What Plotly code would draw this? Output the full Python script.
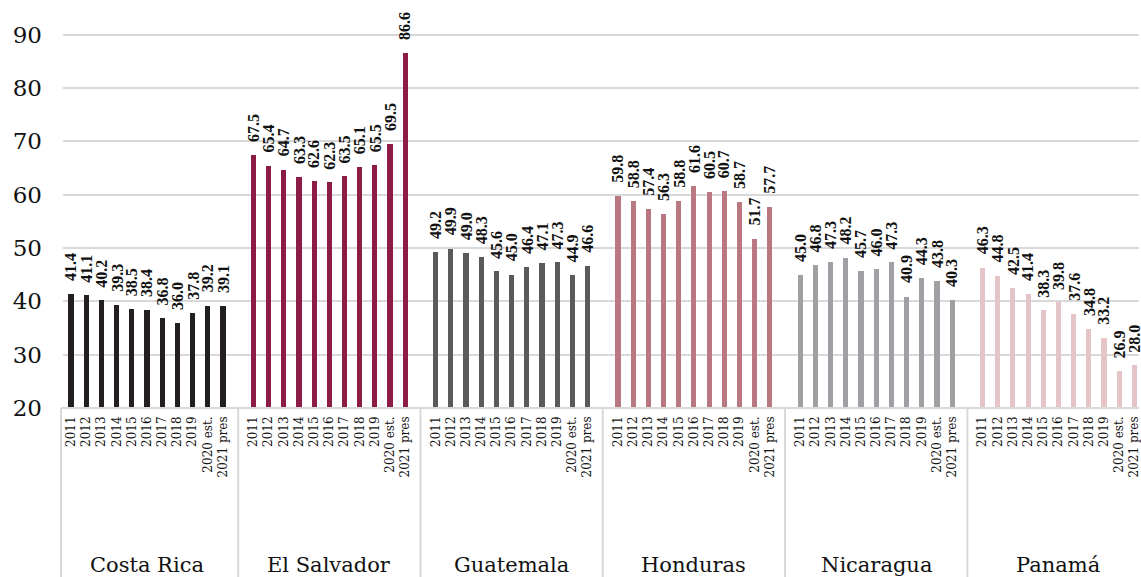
import plotly.graph_objects as go

# Six countries, eleven yearly observations each
countries = ["Costa Rica", "El Salvador", "Guatemala", "Honduras", "Nicaragua", "Panamá"]
years = ["2011", "2012", "2013", "2014", "2015", "2016", "2017", "2018", "2019",
         "2020 est.", "2021 pres"]

costa_rica = [41.4, 41.1, 40.2, 39.3, 38.5, 38.4, 36.8, 36.0, 37.8, 39.2, 39.1]
el_salvador = [67.5, 65.4, 64.7, 63.3, 62.6, 62.3, 63.5, 65.1, 65.5, 69.5, 86.6]
guatemala = [49.2, 49.9, 49.0, 48.3, 45.6, 45.0, 46.4, 47.1, 47.3, 44.9, 46.6]
honduras = [59.8, 58.8, 57.4, 56.3, 58.8, 61.6, 60.5, 60.7, 58.7, 51.7, 57.7]
nicaragua = [45.0, 46.8, 47.3, 48.2, 45.7, 46.0, 47.3, 40.9, 44.3, 43.8, 40.3]
panama = [46.3, 44.8, 42.5, 41.4, 38.3, 39.8, 37.6, 34.8, 33.2, 26.9, 28.0]

series = [costa_rica, el_salvador, guatemala, honduras, nicaragua, panama]
colors = ["#231f20", "#8c1b46", "#5a5a5a", "#b9787f", "#a0a0a4", "#e4c4c6"]

SLOTS = 12          # 11 bars + one empty slot between countries
X_MIN, X_MAX = -0.53, 70.3
Y_MIN, Y_MAX = 20, 96.5
GRID = "#d9d9d9"
SERIF = "DejaVu Serif"

fig = go.Figure()
annotations = []
tickvals, ticktext = [], []

for g, (name, vals, col) in enumerate(zip(countries, series, colors)):
    xs = [g * SLOTS + i for i in range(len(vals))]
    fig.add_trace(go.Bar(
        x=xs, y=vals, name=name, width=0.34,
        marker=dict(color=col, line=dict(width=0)),
        hovertemplate=name + " %{customdata}: %{y:.1f}<extra></extra>",
        customdata=years,
    ))
    tickvals += xs
    ticktext += years
    for x, v in zip(xs, vals):
        annotations.append(dict(
            x=x, y=v, xref="x", yref="y", text=f"<b>{v:.1f}</b>",
            textangle=-90, showarrow=False, xanchor="center", yanchor="bottom",
            yshift=11,
            font=dict(family="Liberation Serif", size=16, color="#111111"),
        ))
    # country name under its group
    annotations.append(dict(
        x=g * SLOTS + (len(vals) - 1) / 2, y=-0.385, xref="x", yref="paper",
        text=name, showarrow=False, xanchor="center", yanchor="middle",
        font=dict(family=SERIF, size=21, color="#111111"),
    ))


def to_paper(pos):
    return (pos - X_MIN) / (X_MAX - X_MIN)


bottom = -169 / 408
shapes = []
# group separators below the axis
sep_positions = [-0.66] + [g * SLOTS - 1 for g in range(1, len(countries))]
for s in sep_positions:
    px = to_paper(s)
    shapes.append(dict(type="line", xref="paper", yref="paper",
                       x0=px, x1=px, y0=0, y1=bottom,
                       line=dict(color=GRID, width=2)))
# baseline
shapes.append(dict(type="line", xref="paper", yref="paper",
                   x0=to_paper(-0.66), x1=1, y0=0, y1=0,
                   line=dict(color=GRID, width=2)))

fig.update_layout(
    width=1141, height=577,
    margin=dict(l=63, r=0, t=0, b=169),
    paper_bgcolor="white", plot_bgcolor="white",
    showlegend=False, bargap=0,
    annotations=annotations, shapes=shapes,
    xaxis=dict(
        range=[X_MIN, X_MAX], tickmode="array", tickvals=tickvals, ticktext=ticktext,
        tickangle=-90, showgrid=False, zeroline=False, showline=False, ticks="",
        ticklabeloverflow="allow", ticklabelstandoff=5,
        tickfont=dict(family=SERIF, size=12, color="#111111"),
    ),
    yaxis=dict(
        range=[Y_MIN, Y_MAX], tickmode="array", tickvals=list(range(20, 100, 10)),
        showgrid=True, gridcolor=GRID, gridwidth=2, zeroline=False, showline=False,
        ticks="", ticklabelstandoff=20,
        tickfont=dict(family=SERIF, size=23, color="#111111"),
    ),
)

fig.write_html("out.html")
